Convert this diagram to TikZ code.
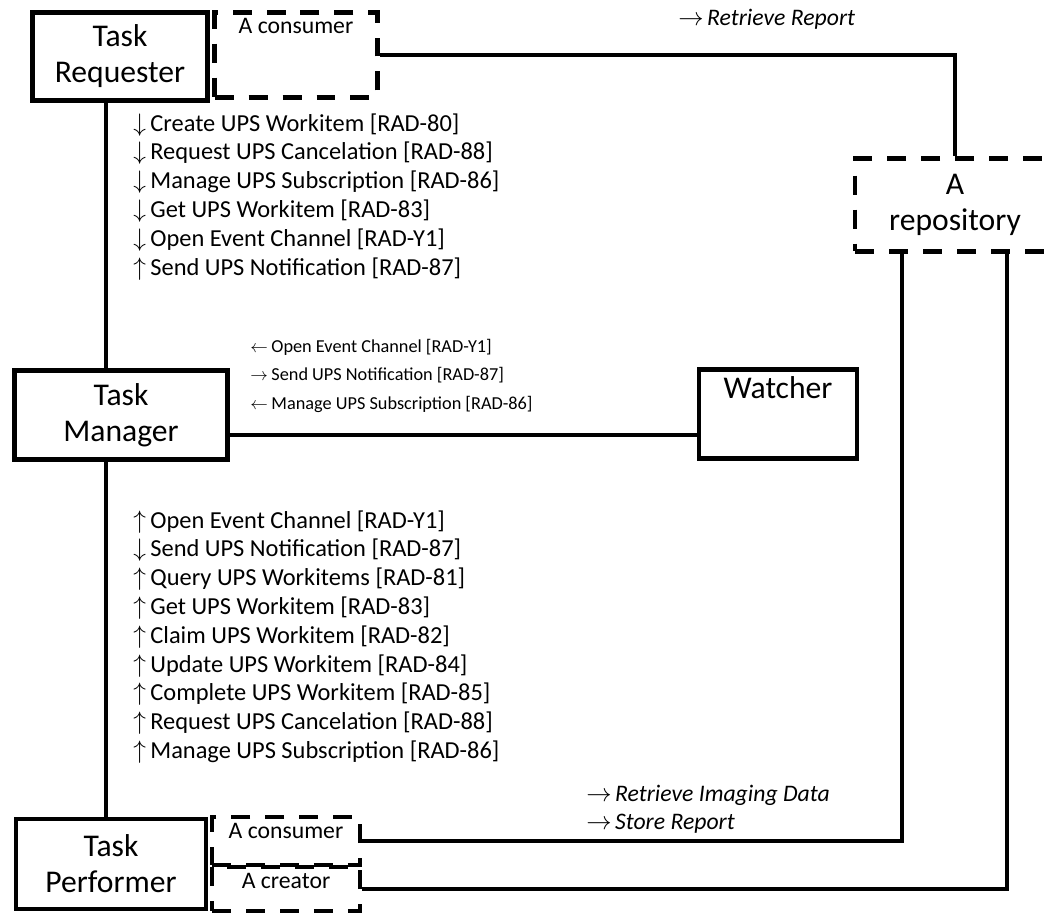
\documentclass[tikz,border=0pt]{standalone}
\usepackage{fontspec}
\setmainfont{Carlito}
\newcommand{\msgup}{$\uparrow$\hspace{2.5pt}}
\newcommand{\msgdown}{$\downarrow$\hspace{2.5pt}}
\newcommand{\msgleft}{$\leftarrow$\hspace{2pt}}
\newcommand{\msgright}{$\rightarrow$\hspace{2pt}}
\newcommand{\msglist}[5][msg]{
    \foreach \m [count=\i from 0] in {#5} {
        \node[#1] (#4\i) at (#2, #3+\i*28.8) {\m};
    }
}
\tikzset{
    actor/.style={draw, line width=2.8pt, align=center, font=\fontsize{18}{20.5}\selectfont},
    role/.style={draw, line width=2.8pt, dash pattern=on 0.38cm off 0.3cm, align=center, font=\fontsize{13.5}{16}\selectfont},
    rolelabel/.style={anchor=north, inner sep=4.5pt, font=\fontsize{13.5}{16}\selectfont},
    link/.style={line width=2pt},
    msg/.style={anchor=base west, inner sep=0pt, font=\fontsize{13.9}{16}\selectfont},
    smallmsg/.style={msg, font=\fontsize{10.4}{12}\selectfont},
    datamsg/.style={msg, font=\fontsize{13.5}{16}\selectfont\itshape},
}

\begin{document}
\begin{tikzpicture}[x=0.02cm, y=-0.02cm]
    \useasboundingbox (0,0) rectangle (1051,913);

    %% Actors
    \node[actor, minimum width=3.5cm, minimum height=1.76cm] (req) at (120,56.5) {Task\\Requester};
    \node[role, minimum width=3.26cm, minimum height=1.7cm, label={[rolelabel]north:A consumer}] (reqcons) at (296,55) {};
    \node[role, minimum width=4cm, minimum height=1.86cm, font=\fontsize{18}{20.5}\selectfont] (repo) at (955,205) {A\\repository};
    \node[actor, minimum width=4.26cm, minimum height=1.78cm] (mgr) at (121,415) {Task\\Manager};
    \node[actor, minimum width=3.16cm, minimum height=1.79cm, label={[rolelabel, yshift=-1pt, font=\fontsize{18}{20.5}\selectfont]north:Watcher}] (watcher) at (778,414) {};
    \node[actor, minimum width=3.8cm, minimum height=1.8cm] (perf) at (111,864) {Task\\Performer};
    \node[role, minimum width=2.96cm, minimum height=0.96cm, label={[rolelabel]north:A consumer}] (perfcons) at (286,841) {};
    \node[role, minimum width=2.96cm, minimum height=0.88cm, label={[rolelabel]north:A creator}] (perfcre) at (286,889) {};

    %% Connectors
    \draw[link] (reqcons.east) -| (repo.north);
    \draw[link] ([xshift=-0.28cm]req.south) -- ([xshift=-0.28cm]req.south |- mgr.north);
    \draw[link] ([yshift=-0.4cm]mgr.east) -- ([yshift=-0.4cm]mgr.east -| watcher.west);
    \draw[link] ([xshift=-0.3cm]mgr.south) -- ([xshift=-0.3cm]mgr.south |- perf.north);
    \draw[link] (perfcons.east) -| ([xshift=-1.06cm]repo.south);
    \draw[link] (perfcre.east) -| ([xshift=1.04cm]repo.south);

    %% Transactions
    % Task Requester - Task Manager
    \msglist{133}{131}{reqmsg}{\msgdown Create UPS Workitem [RAD-80], \msgdown Request UPS Cancelation [RAD-88], \msgdown Manage UPS Subscription [RAD-86], \msgdown Get UPS Workitem [RAD-83], \msgdown Open Event Channel [RAD-Y1], \msgup Send UPS Notification [RAD-87]}

    % Task Manager - Watcher
    \msglist[smallmsg]{250}{352}{watchmsg}{\msgleft Open Event Channel [RAD-Y1], \msgright Send UPS Notification [RAD-87], \msgleft Manage UPS Subscription [RAD-86]}

    % Task Manager - Task Performer
    \msglist{133}{528}{perfmsg}{\msgup Open Event Channel [RAD-Y1], \msgdown Send UPS Notification [RAD-87], \msgup Query UPS Workitems [RAD-81], \msgup Get UPS Workitem [RAD-83], \msgup Claim UPS Workitem [RAD-82], \msgup Update UPS Workitem [RAD-84], \msgup Complete UPS Workitem [RAD-85], \msgup Request UPS Cancelation [RAD-88], \msgup Manage UPS Subscription [RAD-86]}

    % Imaging data
    \node[datamsg] (retrrep) at (678,25) {\msgright Retrieve Report};
    \node[datamsg] (retrimg) at (586,801) {\msgright Retrieve Imaging Data};
    \node[datamsg] (storerep) at (586,829) {\msgright Store Report};

\end{tikzpicture}
\end{document}
